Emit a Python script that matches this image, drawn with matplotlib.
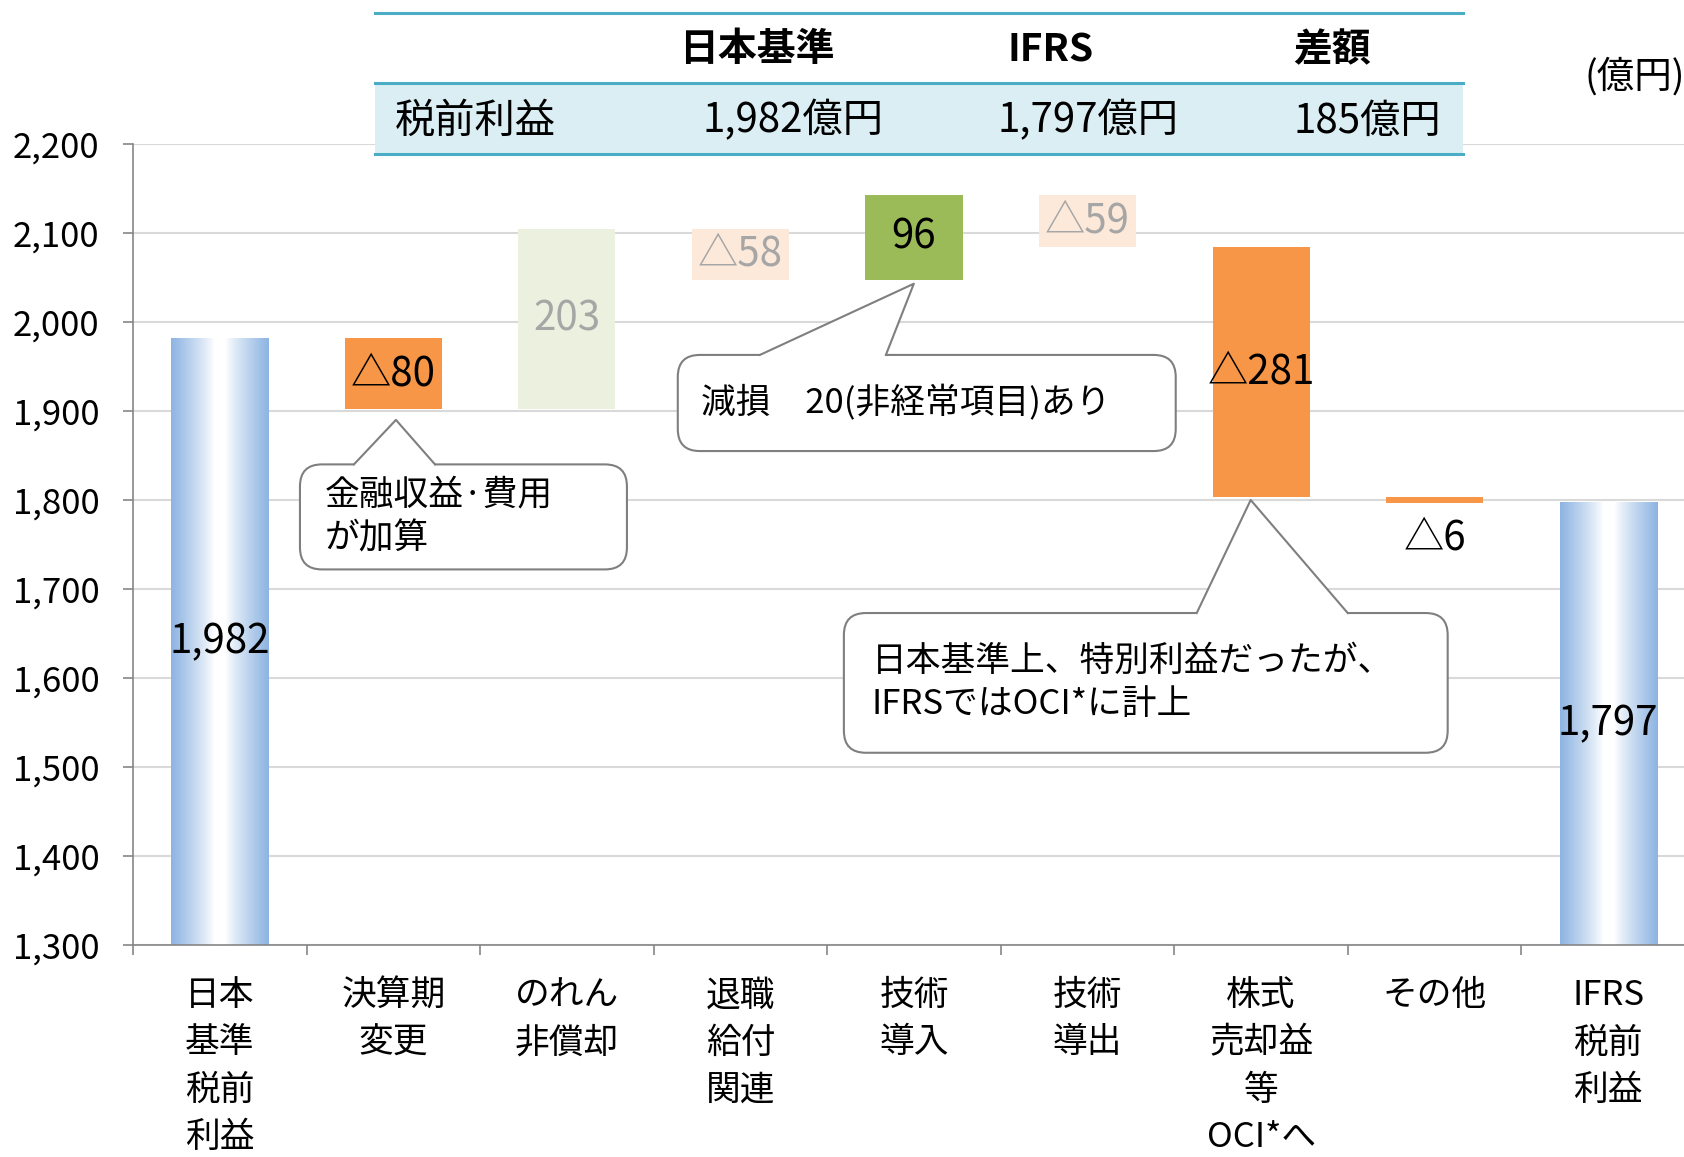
import numpy as np
import matplotlib
matplotlib.use("Agg")
import matplotlib.pyplot as plt
from matplotlib.patches import Rectangle, FancyBboxPatch, Polygon
from matplotlib.lines import Line2D
from matplotlib.colors import to_rgb
from matplotlib.ticker import FuncFormatter
from matplotlib.transforms import IdentityTransform

plt.rcParams["font.family"] = ["Noto Sans CJK JP", "DejaVu Sans"]

# データ
categories = ["日本\n基準\n税前\n利益", "決算期\n変更", "のれん\n非償却", "退職\n給付\n関連",
              "技術\n導入", "技術\n導出", "株式\n売却益\n等\nOCI*へ", "その他", "IFRS\n税前\n利益"]
values = [1982, -80, 203, -58, 96, -59, -281, -6, 1797]
is_total = [True, False, False, False, False, False, False, False, True]
bar_colors = ["gradient", "#F79646", "#EBF1DE", "#FDE9D9", "#9BBB59", "#FDE9D9", "#F79646", "#F79646", "gradient"]
label_colors = ["black", "black", "#A6A6A6", "#A6A6A6", "black", "#A6A6A6", "black", "black", "black"]

header_cols = ["日本基準", "IFRS", "差額"]
header_row_name = "税前利益"
header_row_vals = ["1,982億円", "1,797億円", "185億円"]

W, H = 1684, 1157
fig = plt.figure(figsize=(W / 100, H / 100), dpi=100)
ax = fig.add_axes([133 / W, 1 - 945 / H, 1562 / W, 801 / H])
ymin, ymax = 1300, 2200

# 滝グラフの下端と高さ
bottoms, heights = [], []
running = 0
for v, tot in zip(values, is_total):
    if tot:
        bottoms.append(0)
        heights.append(v)
        running = v
    else:
        bottoms.append(min(running, running + v))
        heights.append(abs(v))
        running += v

x = np.arange(len(values))
bw = 0.56
face = ["none" if c == "gradient" else c for c in bar_colors]
bars = ax.bar(x, heights, bottom=bottoms, width=bw, color=face, zorder=2)

# グラデーション棒
t = np.linspace(0, 1, 256)
w = np.clip((np.abs(t - 0.5) - 0.06) / 0.44, 0, 1) ** 0.85
blue = np.array(to_rgb("#8DB4E2"))
grad = (1 - w)[:, None] * np.ones(3) + w[:, None] * blue
for i, b in enumerate(bars):
    if bar_colors[i] == "gradient":
        ax.imshow(grad[None, :, :], extent=[b.get_x(), b.get_x() + bw, ymin, b.get_y() + b.get_height()],
                  aspect="auto", interpolation="bilinear", zorder=2)

# 数値ラベル
for i, b in enumerate(bars):
    v = values[i]
    lab = f"{v:,}" if is_total[i] else ("△" + str(abs(v)) if v < 0 else str(v))
    if is_total[i]:
        ax.text(x[i], (ymin + v) / 2, lab, ha="center", va="center", fontsize=29, color=label_colors[i], zorder=4)
    elif heights[i] < 20:
        ax.annotate(lab, (x[i], bottoms[i]), xytext=(0, -11), textcoords="offset points",
                    ha="center", va="top", fontsize=29, color=label_colors[i], zorder=4)
    else:
        ax.text(x[i], bottoms[i] + heights[i] / 2, lab, ha="center", va="center", fontsize=29,
                color=label_colors[i], zorder=4)

ax.set_xlim(-0.5, len(values) - 0.5)
ax.set_ylim(ymin, ymax)
ax.set_yticks(range(ymin, ymax + 1, 100))
ax.yaxis.set_major_formatter(FuncFormatter(lambda v, p: f"{v:,.0f}"))
ax.yaxis.grid(True, color="#D9D9D9", lw=1.5)
ax.set_axisbelow(True)
for s in ["top", "right"]:
    ax.spines[s].set_visible(False)
for s in ["left", "bottom"]:
    ax.spines[s].set_color("#868686")
    ax.spines[s].set_linewidth(1.2)
ax.tick_params(axis="y", length=7, width=1.2, color="#868686", pad=17, labelsize=25)
ax.set_xticks(x)
ax.set_xticklabels(categories)
ax.set_xticks(np.arange(-0.5, len(values)), minor=True)
ax.tick_params(axis="x", which="major", length=0, pad=24, labelsize=25)
ax.tick_params(axis="x", which="minor", length=7, width=1.2, color="#868686")
for tl in ax.get_xticklabels():
    tl.set_linespacing(1.45)


# 吹き出し
def callout(box, base, tip, text, text_x):
    tr = ax.transData
    (x0, y0), (x1, y1) = tr.transform([(box[0], box[2]), (box[1], box[3])])
    bx0 = tr.transform((base[0], 0))[0]
    bx1 = tr.transform((base[1], 0))[0]
    tx, ty = tr.transform(tip)
    fig.add_artist(FancyBboxPatch((x0, y0), x1 - x0, y1 - y0, boxstyle="round,pad=0,rounding_size=22",
                                  fc="white", ec="#7F7F7F", lw=1.5, transform=IdentityTransform(), zorder=5))
    fig.add_artist(Polygon([(bx0 + 1, y1 - 3), (bx0, y1), (tx, ty), (bx1, y1), (bx1 - 1, y1 - 3)], closed=True,
                           fc="white", ec="none", transform=IdentityTransform(), zorder=6))
    fig.add_artist(Line2D([bx0, tx, bx1], [y1, ty, y1], color="#7F7F7F", lw=1.5,
                          transform=IdentityTransform(), zorder=7))
    txx = tr.transform((text_x, 0))[0]
    fig.add_artist(matplotlib.text.Text(txx, (y0 + y1) / 2, text, ha="left", va="center", fontsize=25,
                                        linespacing=1.3, transform=IdentityTransform(), zorder=8))


callout((0.462, 2.346, 1722, 1840), (0.773, 1.240), (1.015, 1890), "金融収益·費用\nが加算", 0.606)
callout((2.639, 5.508, 1855, 1963), (3.112, 3.838), (3.999, 2043), "減損　20(非経常項目)あり", 2.772)
callout((3.596, 7.075, 1516, 1673), (5.629, 6.499), (5.940, 1800),
        "日本基準上、特別利益だったが、\nIFRSではOCI*に計上", 3.757)


# 上部の表
def P(px, py):
    return px / W, 1 - py / H


fig.add_artist(Rectangle(P(375, 154), 1088 / W, 71 / H, fc="#DAEEF3", ec="none",
                         transform=fig.transFigure, zorder=1))
for py in [13, 83, 154]:
    fig.add_artist(Line2D([375 / W, 1463 / W], [1 - py / H] * 2, color="#4BACC6", lw=2.2,
                          transform=fig.transFigure, zorder=2))
for cx, lab in zip([757, 1051, 1332], header_cols):
    fig.text(*P(cx, 50), lab, ha="center", va="center", fontsize=28, fontweight="bold", zorder=3)
fig.text(*P(395, 121), header_row_name, ha="left", va="center", fontsize=29, zorder=3)
for cx, lab in zip([793, 1088, 1367], header_row_vals):
    fig.text(*P(cx, 121), lab, ha="center", va="center", fontsize=29, zorder=3)
fig.text(*P(1585, 77), "(億円)", ha="left", va="center", fontsize=27, zorder=3)

fig.savefig("out.png", dpi=100)
